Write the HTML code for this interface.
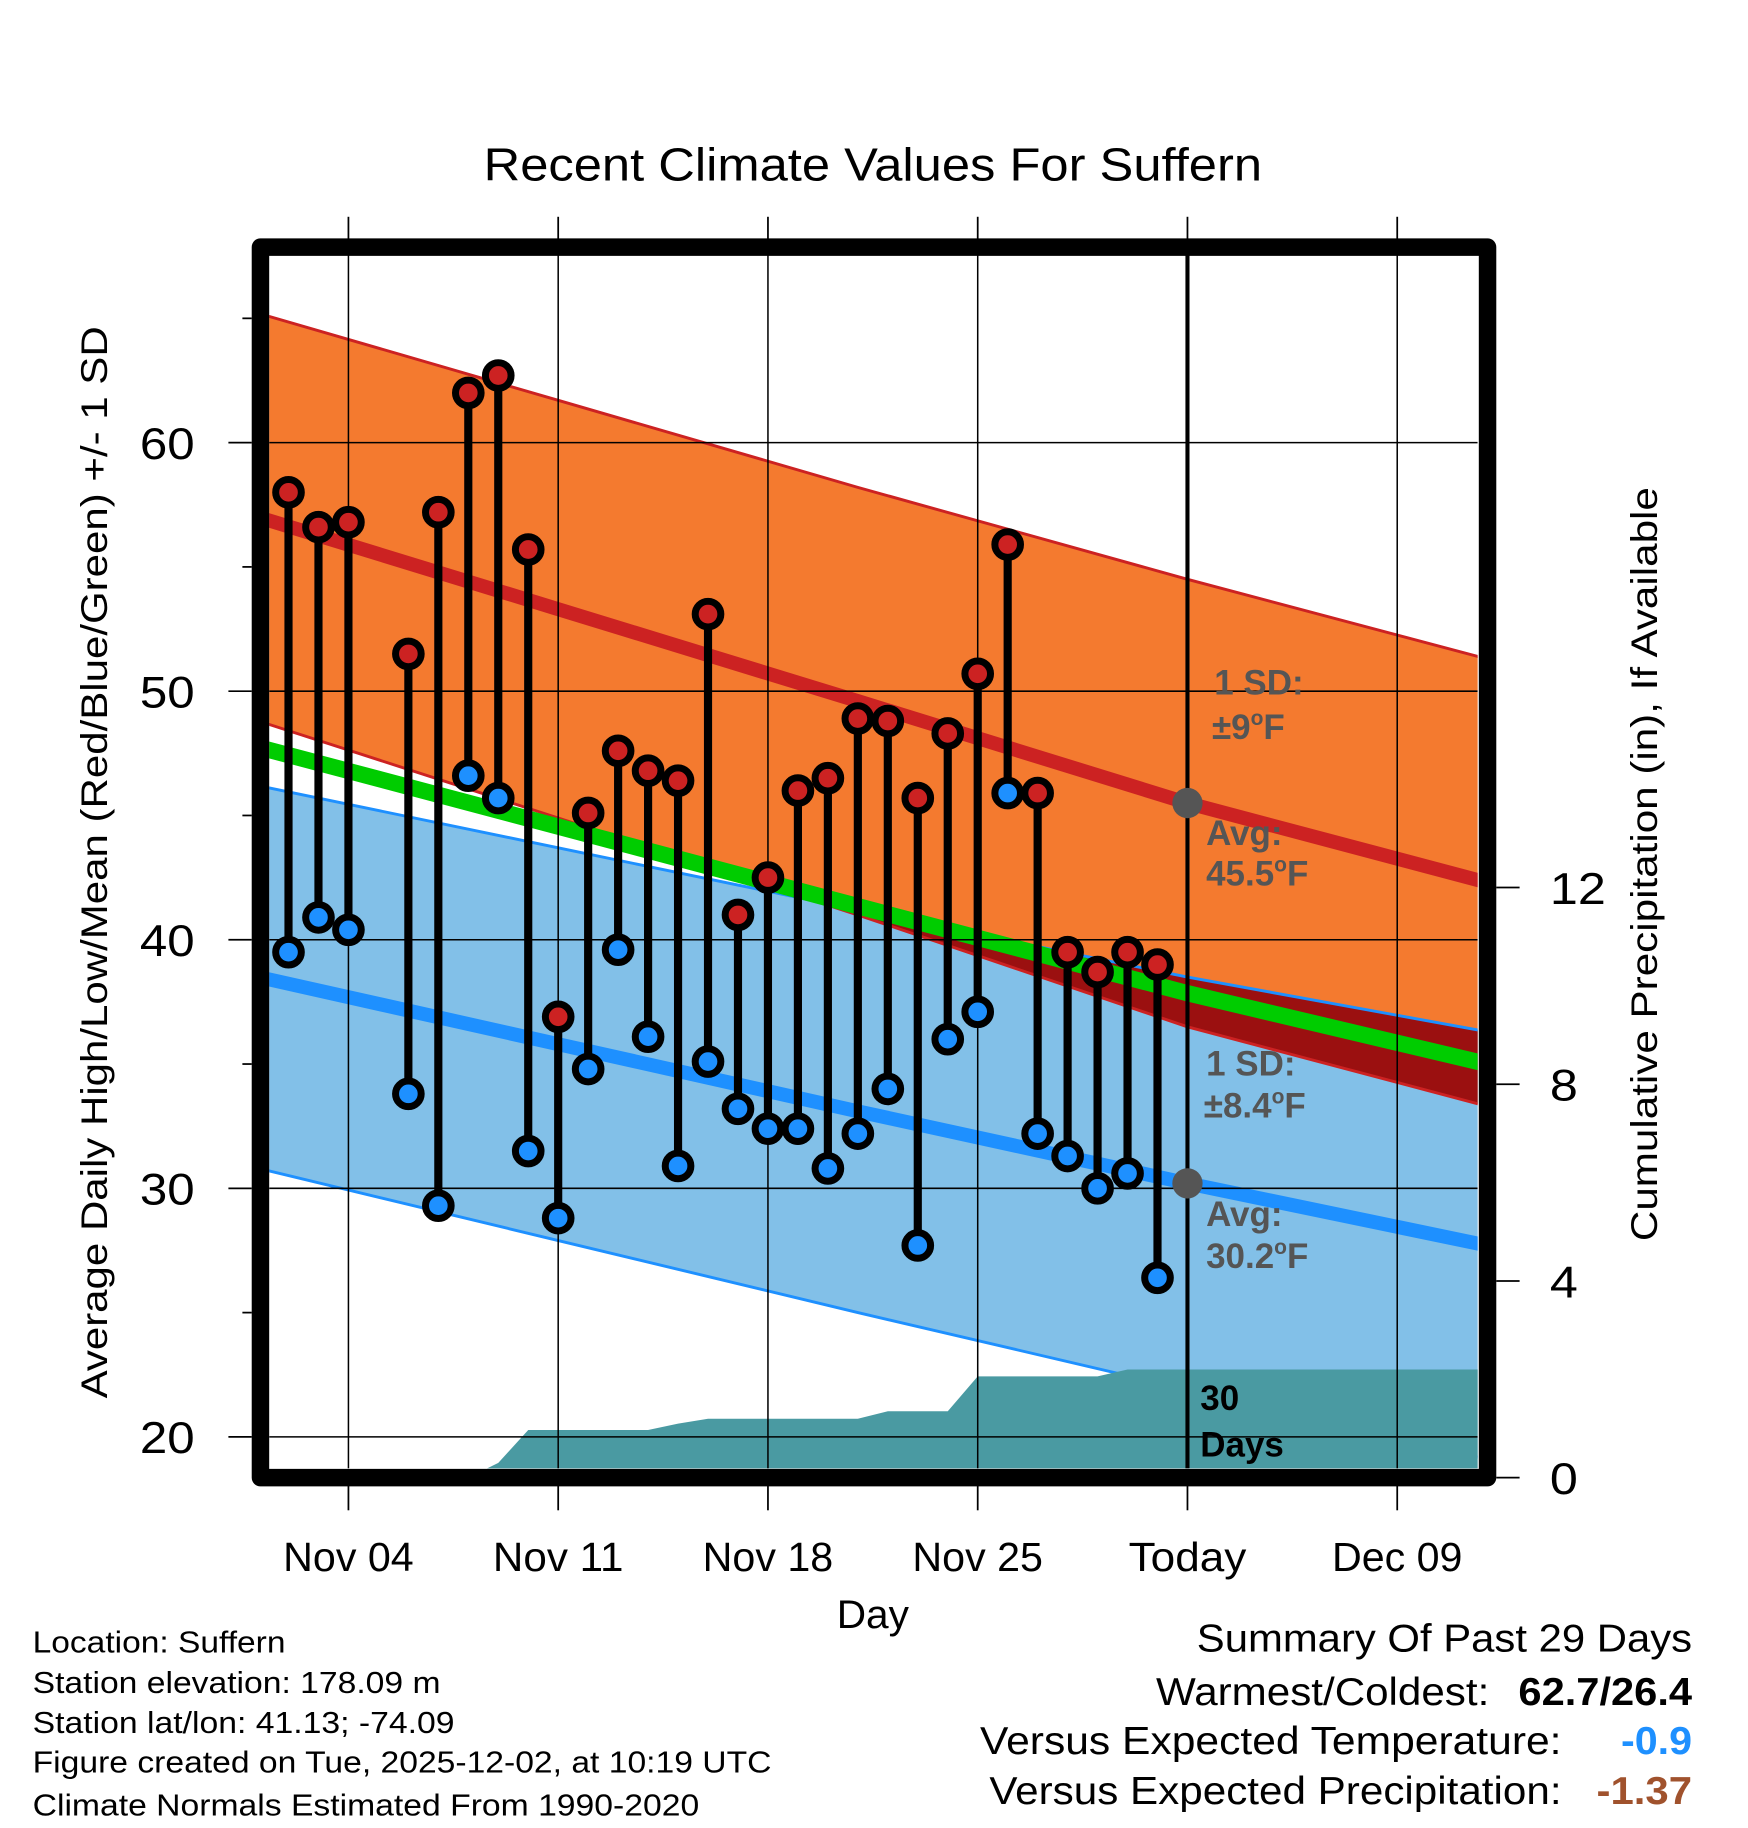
<!DOCTYPE html>
<html><head><meta charset="utf-8"><style>
html,body{margin:0;padding:0;background:#fff}
svg{display:block;font-family:"Liberation Sans",Arial,sans-serif}
</style></head><body>
<svg id="chart" width="1748" height="1828" viewBox="0 0 1500 1568.6" xmlns="http://www.w3.org/2000/svg">
<defs>
<clipPath id="plotClip"><rect x="231" y="219" width="1037" height="1041"/></clipPath>
</defs>
<g id="plot" clip-path="url(#plotClip)"></g>
<g id="overlay"></g>
<text x="415" y="155" font-size="40" textLength="668" lengthAdjust="spacingAndGlyphs">Recent Climate Values For Suffern</text>
<text transform="translate(92,1200) rotate(-90)" font-size="32" textLength="920" lengthAdjust="spacingAndGlyphs">Average Daily High/Low/Mean (Red/Blue/Green) +/- 1 SD</text>
<text transform="translate(1422,1065) rotate(-90)" font-size="32" textLength="647" lengthAdjust="spacingAndGlyphs">Cumulative Precipitation (in), If Available</text>
<text x="718" y="1397" font-size="34" textLength="62" lengthAdjust="spacingAndGlyphs">Day</text>
<g font-size="26">
<text x="28" y="1418" textLength="217" lengthAdjust="spacingAndGlyphs">Location: Suffern</text>
<text x="28" y="1453" textLength="350" lengthAdjust="spacingAndGlyphs">Station elevation: 178.09 m</text>
<text x="28" y="1487" textLength="362" lengthAdjust="spacingAndGlyphs">Station lat/lon: 41.13; -74.09</text>
<text x="28" y="1521" textLength="634" lengthAdjust="spacingAndGlyphs">Figure created on Tue, 2025-12-02, at 10:19 UTC</text>
<text x="28" y="1558" textLength="572" lengthAdjust="spacingAndGlyphs">Climate Normals Estimated From 1990-2020</text>
</g>
<g font-size="33">
<text x="1027" y="1417" textLength="425" lengthAdjust="spacingAndGlyphs">Summary Of Past 29 Days</text>
<text x="992" y="1463" textLength="286" lengthAdjust="spacingAndGlyphs">Warmest/Coldest:</text>
<text x="1303" y="1463" font-weight="bold" textLength="149" lengthAdjust="spacingAndGlyphs">62.7/26.4</text>
<text x="841" y="1505" textLength="499" lengthAdjust="spacingAndGlyphs">Versus Expected Temperature:</text>
<text x="1391" y="1505" font-weight="bold" fill="#1e90ff" textLength="61" lengthAdjust="spacingAndGlyphs">-0.9</text>
<text x="849" y="1548" textLength="491" lengthAdjust="spacingAndGlyphs">Versus Expected Precipitation:</text>
<text x="1370" y="1548" font-weight="bold" fill="#a0522d" textLength="82" lengthAdjust="spacingAndGlyphs">-1.37</text>
</g>
</svg>
<script>
// ---- data ----
const obsDays = [2,3,4,6,7,8,9,10,11,12,13,14,15,16,17,18,19,20,21,22,23,24,25,26,27,28,29,30,31];
const highs = [58.0,56.6,56.8,51.5,57.2,62.0,62.7,55.7,36.9,45.1,47.6,46.8,46.4,53.1,41.0,42.5,46.0,46.5,48.9,48.8,45.7,48.3,50.7,55.9,45.9,39.5,38.7,39.5,39.0];
const lows = [39.5,40.9,40.4,33.8,29.3,46.6,45.7,31.5,28.8,34.8,39.6,36.1,30.9,35.1,33.2,32.4,32.4,30.8,32.2,34.0,27.7,36.0,37.1,45.9,32.2,31.3,30.0,30.6,26.4];
const normDays = [1,11,21,32,42];
const highMean = [57.0,53.3,49.6,45.5,42.3];
const highUpper = [65.2,61.7,58.2,54.5,51.3];
const highLower = [48.8,44.9,41.0,36.5,33.3];
const lowMean = [38.5,35.8,33.1,30.2,27.7];
const lowUpper = [46.2,43.7,41.2,38.5,36.3];
const lowLower = [30.8,27.9,25.0,21.9,19.1];
const precipDays = [1,8,9,10,14,15,16,21,22,24,25,29,30,42];
const precipVals = [0,0,0.3,0.97,0.97,1.1,1.2,1.2,1.35,1.35,2.06,2.06,2.2,2.2];
const yTicks = [20,30,40,50,60];
const yMinor = [25,35,45,55,65];
const y2Ticks = [0,4,8,12];
const xTickDays = [4,11,18,25,32,39];
const xTickLabels = ["Nov 04","Nov 11","Nov 18","Nov 25","Today","Dec 09"];
const todayDay = 32;

// ---- scales ----
const X = d => 299 + (d-4)*25.714;
const Y = v => 1233 - (v-20)*21.33;
const Y2 = p => 1268 - p*42.2;
const NS = "http://www.w3.org/2000/svg";
const plot = document.getElementById('plot');
const ov = document.getElementById('overlay');
function mk(tag, attrs, parent){const e=document.createElementNS(NS,tag);for(const k in attrs)e.setAttribute(k,attrs[k]);parent.appendChild(e);return e;}
function line(arr){return normDays.map((d,i)=>X(d).toFixed(1)+','+Y(arr[i]).toFixed(1));}
function band(up,lo){return line(up).concat(line(lo).reverse()).join(' ');}

let e;
e = mk('polygon',{points:band(highUpper,highLower),fill:'#f47a2f'},plot);


e = mk('polygon',{points:band(lowUpper,lowLower),fill:'#82c0e8'},plot);


const defs = document.querySelector('defs');
const cp = mk('clipPath',{id:'lowClip'},defs);
mk('polygon',{points:band(lowUpper,lowLower)},cp);
e = mk('polygon',{points:band(highUpper,highLower),fill:'#9b1010','clip-path':'url(#lowClip)'},plot);


[[highUpper,'#cc2222'],[highLower,'#cc2222'],[lowUpper,'#1e90ff'],[lowLower,'#1e90ff']].forEach(([a,c])=>{
  const l = mk('polyline',{points:line(a).join(' '),fill:'none',stroke:c,'stroke-width':2.5},plot);
  
  
});
const meanMid = highMean.map((v,i)=>(v+lowMean[i])/2);
e = mk('polyline',{points:line(meanMid).join(' '),fill:'none',stroke:'#00cc00','stroke-width':14},plot);


e = mk('polyline',{points:line(highMean).join(' '),fill:'none',stroke:'#cc2222','stroke-width':12},plot);


e = mk('polyline',{points:line(lowMean).join(' '),fill:'none',stroke:'#1e90ff','stroke-width':12},plot);


let pp = precipDays.map((d,i)=>X(d).toFixed(1)+','+Y2(precipVals[i]).toFixed(1));
pp.push(X(precipDays[precipDays.length-1]).toFixed(1)+','+Y2(-1));
pp.push(X(precipDays[0]).toFixed(1)+','+Y2(-1));
e = mk('polygon',{points:pp.join(' '),fill:'#4a9aa2'},plot);


yTicks.forEach(v=>{
  const g = mk('line',{x1:231,x2:1268,y1:Y(v),y2:Y(v),stroke:'#000','stroke-width':1.3},plot);
  
  
});
xTickDays.forEach(d=>{
  if(d===todayDay) return;
  const g = mk('line',{x1:X(d),x2:X(d),y1:219,y2:1260,stroke:'#000','stroke-width':1.3},plot);
  
  
});
e = mk('line',{x1:X(todayDay),x2:X(todayDay),y1:219,y2:1260,stroke:'#000','stroke-width':3.5},plot);


obsDays.forEach((d,i)=>{
  const s = mk('line',{x1:X(d),x2:X(d),y1:Y(highs[i]),y2:Y(lows[i]),stroke:'#000','stroke-width':7},plot);
  
  
});
obsDays.forEach((d,i)=>{
  const h = mk('circle',{cx:X(d),cy:Y(highs[i]),r:11,fill:'#cc2222',stroke:'#000','stroke-width':6},plot);
  
  
  const l = mk('circle',{cx:X(d),cy:Y(lows[i]),r:11,fill:'#1e90ff',stroke:'#000','stroke-width':6},plot);
  
  
});
[highMean,lowMean].forEach(a=>{
  const c = mk('circle',{cx:X(todayDay),cy:Y(a[normDays.indexOf(todayDay)]),r:13,fill:'#555'},plot);
  
  
});
function txt(x,y,s,size,fill,bold,anchor,parent,name,len){
  const t = mk('text',{x:x,y:y,'font-size':size,fill:fill,'font-weight':bold?'bold':'normal','text-anchor':anchor||'start'},parent);
  if(len){t.setAttribute('textLength',len);t.setAttribute('lengthAdjust','spacingAndGlyphs');}
  t.innerHTML = s;
  
  
  return t;
}
txt(1042,596,'1 SD:',30,'#555',true,'start',plot,'high-sd-label');
txt(1040,634,'±9<tspan font-size="18" dy="-12">o</tspan><tspan dy="12">F</tspan>',30,'#555',true,'start',plot,'high-sd-value');
txt(1035,725,'Avg:',30,'#555',true,'start',plot,'high-avg-label');
txt(1035,760,'45.5<tspan font-size="18" dy="-12">o</tspan><tspan dy="12">F</tspan>',30,'#555',true,'start',plot,'high-avg-value');
txt(1035,923,'1 SD:',30,'#555',true,'start',plot,'low-sd-label');
txt(1033,959,'±8.4<tspan font-size="18" dy="-12">o</tspan><tspan dy="12">F</tspan>',30,'#555',true,'start',plot,'low-sd-value');
txt(1035,1052,'Avg:',30,'#555',true,'start',plot,'low-avg-label');
txt(1035,1088,'30.2<tspan font-size="18" dy="-12">o</tspan><tspan dy="12">F</tspan>',30,'#555',true,'start',plot,'low-avg-value');
txt(1030,1210,'30',30,'#000',true,'start',plot,'precip-days-label');
txt(1030,1250,'Days',30,'#000',true,'start',plot,'precip-days-label2');
e = mk('rect',{x:223.5,y:212,width:1053,height:1056,fill:'none',stroke:'#000','stroke-width':15,'stroke-linejoin':'round'},ov);


yTicks.forEach(v=>{
  const t = mk('line',{x1:196,x2:216,y1:Y(v),y2:Y(v),stroke:'#000','stroke-width':1.5},ov);
  
  
  txt(120,Y(v)+14,String(v),38,'#000',false,'start',ov,'y-tick-label',47);
});
yMinor.forEach(v=>{
  const t = mk('line',{x1:208,x2:216,y1:Y(v),y2:Y(v),stroke:'#000','stroke-width':1.5},ov);
  
  
});
y2Ticks.forEach(p=>{
  const t = mk('line',{x1:1284,x2:1304,y1:Y2(p),y2:Y2(p),stroke:'#000','stroke-width':1.5},ov);
  
  
  txt(1330,Y2(p)+14,String(p),38,'#000',false,'start',ov,'y2-tick-label',String(p).length*24);
});
xTickDays.forEach((d,i)=>{
  const a = mk('line',{x1:X(d),x2:X(d),y1:186,y2:205,stroke:'#000','stroke-width':1.5},ov);
  
  
  const b = mk('line',{x1:X(d),x2:X(d),y1:1275,y2:1296,stroke:'#000','stroke-width':1.5},ov);
  
  
  const w = xTickLabels[i]==='Today' ? 101 : 112;
  txt(X(d)-w/2,1348,xTickLabels[i],35,'#000',false,'start',ov,'x-tick-label',w);
});
</script>
</body></html>
